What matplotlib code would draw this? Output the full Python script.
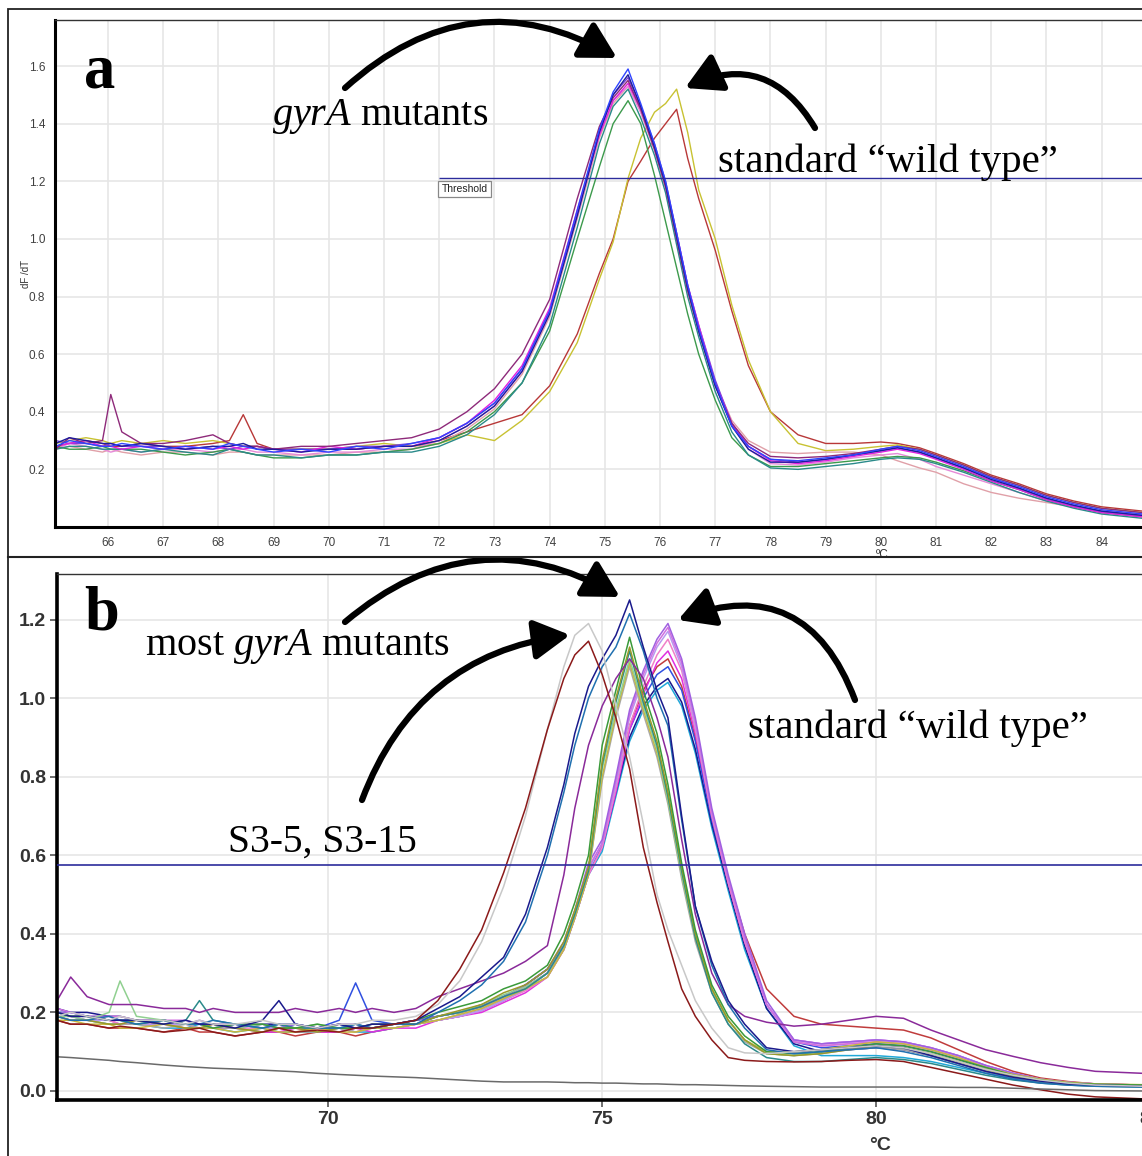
import matplotlib
matplotlib.use("Agg")
import matplotlib.pyplot as plt
from matplotlib.patches import FancyArrowPatch, Rectangle
from matplotlib.lines import Line2D
from matplotlib.transforms import Bbox, TransformedBbox

# ---------------- DATA: panel a (LightCycler melt curves) ----------------
TA = [65.05, 65.3, 65.6, 65.9, 66.05, 66.25, 66.6, 67.0, 67.4, 67.9, 68.2, 68.45, 68.7, 69.0, 69.5,
      70.0, 70.5, 71.0, 71.5, 72.0, 72.5, 73.0, 73.5, 74.0, 74.5, 74.9, 75.15, 75.42, 75.65, 75.9,
      76.1, 76.3, 76.5, 76.7, 77.0, 77.3, 77.6, 78.0, 78.5, 79.0, 79.5, 80.0, 80.3, 80.7, 81.0,
      81.5, 82.0, 82.5, 83.0, 83.5, 84.0, 84.75]

a_blue = [0.28,0.30,0.29,0.28,0.28,0.29,0.28,0.27,0.28,0.27,0.29,0.28,0.27,0.26,0.27,0.26,0.28,0.27,0.29,
          0.31,0.36,0.43,0.55,0.75,1.10,1.38,1.51,1.59,1.47,1.33,1.20,1.02,0.84,0.69,0.50,0.35,0.28,0.235,
          0.23,0.24,0.25,0.27,0.28,0.265,0.245,0.21,0.17,0.14,0.105,0.08,0.06,0.045]
a_navy = [0.29,0.31,0.30,0.29,0.29,0.28,0.29,0.28,0.27,0.28,0.28,0.29,0.27,0.27,0.26,0.27,0.27,0.28,0.28,
          0.30,0.35,0.42,0.54,0.74,1.08,1.37,1.50,1.57,1.46,1.32,1.19,1.01,0.83,0.68,0.49,0.35,0.27,0.225,
          0.225,0.235,0.25,0.265,0.275,0.26,0.24,0.205,0.165,0.135,0.10,0.075,0.055,0.04]
a_purple = [0.27,0.31,0.29,0.30,0.46,0.33,0.29,0.29,0.30,0.32,0.29,0.28,0.28,0.27,0.28,0.28,0.29,0.30,0.31,
            0.34,0.40,0.48,0.60,0.79,1.14,1.39,1.49,1.55,1.45,1.31,1.18,1.00,0.82,0.68,0.49,0.36,0.29,0.245,
            0.24,0.245,0.255,0.27,0.28,0.27,0.25,0.215,0.175,0.145,0.11,0.085,0.065,0.05]
a_magenta = [0.28,0.29,0.30,0.28,0.28,0.27,0.28,0.27,0.28,0.27,0.28,0.27,0.28,0.27,0.26,0.28,0.27,0.28,0.28,
             0.31,0.36,0.44,0.56,0.76,1.10,1.36,1.48,1.54,1.45,1.32,1.19,1.02,0.84,0.70,0.50,0.36,0.28,0.23,
             0.22,0.23,0.245,0.26,0.27,0.255,0.235,0.20,0.16,0.13,0.095,0.07,0.05,0.035]
a_violet = [0.30,0.29,0.29,0.28,0.29,0.28,0.28,0.28,0.27,0.28,0.27,0.28,0.28,0.27,0.27,0.27,0.28,0.28,0.29,
            0.31,0.36,0.43,0.55,0.75,1.09,1.37,1.50,1.56,1.46,1.33,1.20,1.02,0.84,0.70,0.51,0.36,0.28,0.235,
            0.225,0.235,0.25,0.265,0.275,0.26,0.24,0.205,0.17,0.135,0.10,0.075,0.055,0.04]
a_teal = [0.27,0.28,0.28,0.27,0.27,0.27,0.26,0.27,0.26,0.25,0.27,0.26,0.25,0.25,0.24,0.25,0.25,0.26,0.26,
          0.28,0.32,0.39,0.50,0.70,1.04,1.33,1.46,1.52,1.42,1.29,1.16,0.98,0.80,0.66,0.47,0.33,0.25,0.205,
          0.20,0.21,0.22,0.235,0.24,0.235,0.22,0.19,0.155,0.12,0.09,0.065,0.045,0.03]
a_green = [0.28,0.27,0.27,0.28,0.27,0.27,0.27,0.26,0.25,0.26,0.27,0.26,0.25,0.24,0.24,0.25,0.25,0.26,0.27,
           0.29,0.33,0.40,0.50,0.68,1.00,1.25,1.40,1.48,1.40,1.22,1.06,0.90,0.74,0.60,0.44,0.31,0.25,0.21,
           0.21,0.22,0.23,0.24,0.245,0.24,0.225,0.195,0.16,0.13,0.095,0.07,0.05,0.035]
a_pink = [0.27,0.29,0.28,0.27,0.26,0.27,0.26,0.27,0.27,0.26,0.27,0.27,0.26,0.26,0.25,0.26,0.26,0.27,0.27,
          0.30,0.35,0.42,0.54,0.74,1.08,1.36,1.48,1.53,1.44,1.31,1.18,1.00,0.82,0.68,0.49,0.35,0.27,0.22,
          0.215,0.225,0.24,0.25,0.255,0.235,0.21,0.18,0.15,0.12,0.09,0.07,0.05,0.04]
a_rose = [0.27,0.28,0.27,0.26,0.27,0.26,0.25,0.26,0.26,0.25,0.26,0.26,0.25,0.25,0.25,0.25,0.26,0.26,0.27,
          0.29,0.34,0.41,0.53,0.73,1.07,1.35,1.47,1.53,1.44,1.31,1.18,1.00,0.83,0.69,0.50,0.37,0.30,0.26,
          0.255,0.26,0.26,0.25,0.23,0.205,0.19,0.15,0.12,0.10,0.085,0.07,0.055,0.045]
a_wt_yellow = [0.29,0.30,0.31,0.30,0.29,0.30,0.29,0.30,0.29,0.30,0.29,0.28,0.28,0.27,0.27,0.27,0.28,0.29,0.28,
               0.29,0.32,0.30,0.37,0.47,0.64,0.86,0.99,1.21,1.35,1.44,1.47,1.52,1.37,1.17,1.00,0.77,0.58,0.40,
               0.29,0.265,0.27,0.28,0.285,0.27,0.25,0.215,0.175,0.145,0.11,0.085,0.065,0.05]
a_wt_red = [0.28,0.29,0.30,0.29,0.28,0.28,0.29,0.28,0.28,0.29,0.30,0.39,0.29,0.27,0.27,0.27,0.27,0.28,0.28,
            0.30,0.33,0.36,0.39,0.49,0.67,0.88,1.00,1.20,1.27,1.35,1.40,1.45,1.28,1.14,0.96,0.75,0.56,0.40,
            0.32,0.29,0.29,0.295,0.29,0.275,0.255,0.22,0.18,0.15,0.115,0.09,0.07,0.055]

A_SERIES = [a_wt_red, a_wt_yellow, a_rose, a_pink, a_green, a_teal, a_violet, a_magenta, a_purple, a_navy, a_blue]
A_COLORS = ['#b83838', '#c8c232', '#e0a0a8', '#e68ad8', '#3c9a4c', '#2a8a8a', '#7a44d8', '#e020e0',
            '#8e2a7a', '#1c1c9c', '#2f44ff']
THRESH_A = 1.21
THRESH_A_START = 72.0
A_XTICKS = list(range(66, 85))
A_YTICKS = [0.2, 0.4, 0.6, 0.8, 1.0, 1.2, 1.4, 1.6]

# ---------------- DATA: panel b ----------------
TB = [65.05, 65.3, 65.6, 66.0, 66.2, 66.5, 67.0, 67.4, 67.65, 67.9, 68.3, 68.8, 69.1, 69.4, 69.8, 70.2,
      70.5, 70.8, 71.2, 71.6, 72.0, 72.4, 72.8, 73.2, 73.6, 74.0, 74.3, 74.5, 74.75, 75.0, 75.25, 75.5,
      75.75, 76.0, 76.2, 76.45, 76.7, 77.0, 77.3, 77.6, 78.0, 78.5, 79.0, 79.5, 80.0, 80.5, 81.0, 81.5,
      82.0, 82.5, 83.0, 83.5, 84.0, 84.85]

b_control = [0.087,0.085,0.082,0.078,0.075,0.072,0.066,0.062,0.060,0.058,0.056,0.053,0.051,0.049,0.045,0.042,
             0.040,0.038,0.036,0.034,0.031,0.028,0.025,0.023,0.023,0.023,0.022,0.021,0.021,0.020,0.020,0.019,
             0.018,0.018,0.017,0.016,0.016,0.015,0.014,0.013,0.012,0.011,0.010,0.010,0.010,0.010,0.010,0.009,
             0.009,0.007,0.005,0.003,0.001,0.000]
b_s3_maroon = [0.18,0.17,0.17,0.16,0.165,0.16,0.15,0.155,0.16,0.15,0.14,0.15,0.16,0.15,0.155,0.15,0.16,0.16,0.17,0.18,
               0.23,0.31,0.41,0.555,0.72,0.92,1.05,1.11,1.145,1.06,0.95,0.82,0.62,0.48,0.38,0.26,0.19,0.13,0.085,0.078,
               0.075,0.074,0.075,0.078,0.08,0.075,0.06,0.045,0.03,0.015,0.003,-0.008,-0.015,-0.02]
b_s3_gray = [0.19,0.20,0.19,0.18,0.19,0.18,0.18,0.17,0.18,0.17,0.17,0.18,0.17,0.17,0.16,0.17,0.17,0.18,0.18,0.19,
             0.22,0.28,0.38,0.52,0.70,0.92,1.08,1.16,1.19,1.12,0.98,0.85,0.68,0.50,0.41,0.32,0.23,0.16,0.11,0.097,
             0.095,0.10,0.105,0.11,0.115,0.11,0.095,0.075,0.055,0.04,0.028,0.02,0.015,0.012]
b_mut_navy = [0.20,0.19,0.19,0.18,0.18,0.18,0.17,0.18,0.17,0.17,0.16,0.18,0.23,0.17,0.16,0.17,0.16,0.17,0.17,0.18,
              0.21,0.24,0.29,0.34,0.45,0.62,0.78,0.91,1.03,1.10,1.16,1.25,1.13,1.02,0.95,0.70,0.47,0.33,0.23,0.17,
              0.11,0.10,0.105,0.11,0.115,0.11,0.09,0.07,0.05,0.035,0.025,0.018,0.015,0.012]
b_mut_steel = [0.19,0.18,0.18,0.19,0.18,0.17,0.18,0.17,0.17,0.18,0.17,0.16,0.17,0.17,0.16,0.16,0.17,0.16,0.17,0.17,
               0.20,0.23,0.27,0.33,0.43,0.60,0.76,0.88,1.00,1.08,1.13,1.215,1.12,1.00,0.93,0.69,0.47,0.32,0.22,0.16,
               0.105,0.095,0.10,0.105,0.11,0.10,0.085,0.065,0.045,0.03,0.02,0.015,0.012,0.01]
b_mut_purple = [0.23,0.29,0.24,0.22,0.22,0.22,0.21,0.21,0.20,0.21,0.20,0.20,0.20,0.21,0.20,0.21,0.20,0.21,0.20,0.21,
                0.24,0.26,0.28,0.30,0.33,0.37,0.55,0.72,0.88,0.98,1.05,1.10,1.05,0.95,0.85,0.64,0.45,0.30,0.22,0.19,
                0.175,0.165,0.17,0.18,0.19,0.185,0.155,0.13,0.105,0.088,0.072,0.06,0.05,0.045]
b_mut_green = [0.20,0.19,0.19,0.18,0.18,0.17,0.18,0.17,0.17,0.16,0.17,0.17,0.16,0.16,0.17,0.16,0.16,0.17,0.17,0.18,
               0.20,0.215,0.23,0.26,0.28,0.32,0.40,0.48,0.60,0.88,1.02,1.155,1.02,0.91,0.78,0.58,0.41,0.27,0.19,0.14,
               0.10,0.095,0.10,0.11,0.12,0.115,0.10,0.08,0.06,0.04,0.028,0.02,0.017,0.015]
b_mut_olive = [0.19,0.18,0.18,0.17,0.17,0.18,0.17,0.16,0.16,0.17,0.16,0.15,0.16,0.16,0.15,0.16,0.16,0.16,0.17,0.17,
               0.19,0.205,0.22,0.25,0.27,0.31,0.38,0.46,0.57,0.84,1.00,1.13,1.00,0.89,0.76,0.57,0.40,0.26,0.18,0.13,
               0.095,0.09,0.095,0.105,0.115,0.11,0.095,0.075,0.055,0.038,0.026,0.019,0.016,0.014]
b_mut_teal = [0.20,0.19,0.19,0.18,0.18,0.18,0.17,0.18,0.23,0.18,0.17,0.16,0.17,0.16,0.16,0.16,0.17,0.16,0.17,0.17,
              0.19,0.20,0.215,0.24,0.26,0.30,0.37,0.45,0.56,0.83,0.99,1.12,0.99,0.88,0.75,0.56,0.39,0.25,0.17,0.12,
              0.085,0.075,0.075,0.08,0.085,0.08,0.07,0.055,0.04,0.028,0.02,0.015,0.012,0.01]
b_mut_lime = [0.19,0.19,0.18,0.20,0.28,0.19,0.18,0.17,0.17,0.17,0.16,0.17,0.16,0.16,0.17,0.16,0.16,0.16,0.17,0.17,
              0.19,0.20,0.22,0.245,0.265,0.30,0.37,0.45,0.56,0.82,0.97,1.10,0.98,0.87,0.74,0.55,0.39,0.26,0.18,0.13,
              0.095,0.09,0.10,0.11,0.115,0.11,0.095,0.075,0.055,0.038,0.026,0.019,0.016,0.014]
b_mut_yellow = [0.18,0.18,0.17,0.17,0.16,0.16,0.17,0.16,0.16,0.16,0.15,0.16,0.15,0.15,0.16,0.15,0.15,0.16,0.16,0.17,
                0.18,0.195,0.21,0.235,0.26,0.29,0.36,0.44,0.55,0.80,0.96,1.09,0.97,0.86,0.74,0.55,0.39,0.26,0.18,0.13,
                0.10,0.10,0.105,0.115,0.125,0.12,0.105,0.085,0.06,0.042,0.03,0.022,0.018,0.016]
b_mut_gray = [0.19,0.18,0.18,0.17,0.17,0.17,0.16,0.17,0.16,0.16,0.16,0.15,0.16,0.15,0.15,0.16,0.15,0.16,0.16,0.17,
              0.18,0.195,0.21,0.235,0.26,0.29,0.36,0.44,0.55,0.79,0.95,1.08,0.96,0.85,0.73,0.54,0.38,0.25,0.17,0.125,
              0.095,0.09,0.095,0.105,0.11,0.105,0.09,0.07,0.05,0.035,0.024,0.018,0.015,0.013]
b_wt_violet = [0.20,0.20,0.19,0.19,0.18,0.18,0.18,0.17,0.18,0.17,0.17,0.17,0.16,0.17,0.16,0.17,0.17,0.16,0.17,0.18,
               0.19,0.20,0.22,0.24,0.27,0.31,0.38,0.46,0.58,0.64,0.80,0.97,1.07,1.15,1.19,1.10,0.95,0.72,0.55,0.40,
               0.23,0.13,0.12,0.125,0.13,0.125,0.11,0.09,0.065,0.045,0.03,0.022,0.018,0.015]
b_wt_orchid = [0.21,0.20,0.19,0.19,0.19,0.18,0.18,0.18,0.17,0.17,0.17,0.16,0.17,0.17,0.16,0.16,0.16,0.17,0.17,0.17,
               0.19,0.20,0.215,0.235,0.265,0.30,0.37,0.45,0.57,0.63,0.79,0.96,1.06,1.14,1.18,1.09,0.94,0.71,0.54,0.39,
               0.22,0.125,0.115,0.12,0.125,0.12,0.105,0.085,0.06,0.042,0.028,0.02,0.016,0.014]
b_wt_lavender = [0.19,0.19,0.18,0.18,0.18,0.17,0.17,0.17,0.17,0.16,0.17,0.16,0.16,0.16,0.16,0.15,0.16,0.16,0.16,0.17,
                 0.18,0.19,0.205,0.23,0.26,0.30,0.37,0.45,0.56,0.63,0.78,0.95,1.05,1.13,1.17,1.08,0.93,0.71,0.54,0.39,
                 0.22,0.13,0.12,0.125,0.13,0.125,0.11,0.09,0.065,0.045,0.03,0.022,0.018,0.015]
b_wt_pink = [0.20,0.19,0.19,0.18,0.17,0.18,0.17,0.17,0.16,0.17,0.16,0.16,0.16,0.15,0.16,0.16,0.15,0.16,0.16,0.17,
             0.18,0.19,0.205,0.23,0.255,0.29,0.36,0.44,0.55,0.62,0.77,0.93,1.03,1.11,1.15,1.07,0.92,0.70,0.53,0.38,
             0.22,0.125,0.115,0.12,0.125,0.12,0.105,0.085,0.06,0.042,0.028,0.02,0.016,0.014]
b_wt_magenta = [0.19,0.19,0.18,0.18,0.17,0.17,0.17,0.16,0.16,0.16,0.16,0.15,0.15,0.16,0.15,0.15,0.16,0.15,0.16,0.16,
                0.18,0.19,0.20,0.225,0.25,0.29,0.36,0.44,0.55,0.62,0.76,0.92,1.01,1.09,1.12,1.05,0.91,0.70,0.53,0.38,
                0.22,0.13,0.12,0.125,0.13,0.125,0.11,0.09,0.065,0.045,0.03,0.022,0.018,0.015]
b_wt_blue = [0.20,0.20,0.19,0.18,0.18,0.18,0.17,0.17,0.17,0.16,0.17,0.16,0.16,0.17,0.16,0.18,0.275,0.18,0.17,0.18,
             0.19,0.20,0.215,0.24,0.27,0.31,0.37,0.45,0.56,0.63,0.77,0.92,1.00,1.06,1.08,1.02,0.89,0.69,0.53,0.38,
             0.22,0.125,0.11,0.115,0.12,0.115,0.10,0.08,0.058,0.04,0.027,0.02,0.016,0.014]
b_wt_darkblue = [0.21,0.20,0.20,0.19,0.19,0.18,0.18,0.17,0.17,0.17,0.16,0.17,0.17,0.16,0.16,0.17,0.16,0.16,0.17,0.18,
                 0.19,0.20,0.215,0.24,0.27,0.31,0.37,0.45,0.56,0.62,0.76,0.90,0.98,1.03,1.05,0.99,0.87,0.68,0.52,0.37,
                 0.21,0.12,0.10,0.105,0.11,0.105,0.09,0.07,0.05,0.035,0.024,0.018,0.015,0.013]
b_wt_cyan = [0.19,0.18,0.18,0.17,0.17,0.17,0.16,0.16,0.17,0.16,0.15,0.16,0.15,0.15,0.15,0.16,0.15,0.15,0.16,0.17,
             0.18,0.19,0.205,0.23,0.26,0.30,0.36,0.44,0.55,0.61,0.75,0.89,0.97,1.02,1.04,0.98,0.86,0.67,0.51,0.36,
             0.21,0.115,0.09,0.09,0.09,0.085,0.075,0.06,0.045,0.032,0.022,0.017,0.014,0.012]
b_wt_red = [0.18,0.17,0.17,0.16,0.16,0.16,0.15,0.16,0.15,0.15,0.14,0.15,0.15,0.14,0.15,0.15,0.14,0.15,0.16,0.17,
            0.18,0.19,0.205,0.23,0.26,0.30,0.37,0.45,0.56,0.62,0.77,0.93,1.02,1.08,1.10,1.03,0.90,0.70,0.54,0.40,
            0.26,0.19,0.17,0.165,0.16,0.155,0.135,0.105,0.075,0.05,0.033,0.024,0.018,0.015]

B_SERIES = [b_wt_red, b_wt_cyan, b_wt_darkblue, b_wt_blue, b_wt_magenta, b_wt_pink, b_wt_lavender, b_wt_orchid,
            b_wt_violet, b_mut_gray, b_mut_yellow, b_mut_lime, b_mut_teal, b_mut_olive, b_mut_green,
            b_mut_purple, b_mut_steel, b_mut_navy, b_s3_gray, b_s3_maroon, b_control]
B_COLORS = ['#c03c3c', '#20a8d8', '#18188c', '#3050e0', '#e030e0', '#f080c8', '#b89af0', '#d070e0',
            '#a060e0', '#a8a8a8', '#c8b840', '#90d090', '#2a8a8a', '#9a9a28', '#3a9a3a',
            '#8a2a9a', '#2070b0', '#1a1a8c', '#c8c8c8', '#8b1a1a', '#6a6a6a']
THRESH_B = 0.575
B_XTICKS = [70, 75, 80, 85]
B_YTICKS = [0.0, 0.2, 0.4, 0.6, 0.8, 1.0, 1.2]

# ---------------- FIGURE ----------------
plt.rcParams['mathtext.fontset'] = 'custom'
plt.rcParams['mathtext.rm'] = 'Liberation Serif'
plt.rcParams['mathtext.it'] = 'Liberation Serif:italic'

W, H = 1142, 1156
fig = plt.figure(figsize=(W / 100, H / 100), dpi=100)
fig.patch.set_facecolor('white')


def fx(px):
    return px / W


def fy(py):
    return 1 - py / H


SANS = 'Liberation Sans'
SERIF = 'Liberation Serif'

# ---- panel a ----
axa = fig.add_axes([fx(55), fy(527), fx(1142) - fx(55), fy(20) - fy(527)])
for s, c in zip(A_SERIES, A_COLORS):
    axa.plot(TA, s, color=c, lw=1.0)
axa.set_xlim(65.04, 84.73)
axa.set_ylim(0.0, 1.76)
axa.hlines(THRESH_A, THRESH_A_START, 84.73, color='#2c2c9c', lw=1.0, zorder=5)
axa.text(THRESH_A_START + 0.04, THRESH_A - 0.02, 'Threshold', fontsize=7.5, family=SANS,
         va='top', ha='left', color='#222', zorder=6,
         bbox=dict(boxstyle='square,pad=0.3', fc='white', ec='#888888', lw=0.9))
axa.set_xticks(A_XTICKS)
axa.set_yticks(A_YTICKS)
axa.set_xticklabels([str(t) for t in A_XTICKS])
axa.set_yticklabels(['%.1f' % t for t in A_YTICKS])
axa.grid(True, color='#e6e6e6', lw=1.2)
axa.set_axisbelow(True)
axa.tick_params(length=0, pad=7, labelsize=8.5, labelcolor='#404040')
for lab in axa.get_xticklabels() + axa.get_yticklabels():
    lab.set_family(SANS)
axa.spines['left'].set_linewidth(2.2)
axa.spines['bottom'].set_linewidth(2.2)
axa.spines['top'].set_linewidth(1.0)
axa.spines['top'].set_color('#333333')
axa.spines['right'].set_visible(False)

fig.text(fx(26), fy(274), 'dF /dT', rotation=90, ha='center', va='center', fontsize=7,
         family=SANS, color='#333')
t_unit = fig.text(fx(882), fy(549), 'ºC', ha='center', va='top', fontsize=8.5, family=SANS, color='#333')
t_unit.set_clip_box(TransformedBbox(Bbox([[0, fy(556)], [1, 1]]), fig.transFigure))
t_unit.set_clip_on(True)

# ---- panel b ----
axb = fig.add_axes([fx(57), fy(1100), fx(1160) - fx(57), fy(574) - fy(1100)])
for s, c in zip(B_SERIES, B_COLORS):
    axb.plot(TB, s, color=c, lw=1.1)
axb.set_xlim(65.05, 85.18)
axb.set_ylim(-0.023, 1.316)
axb.axhline(THRESH_B, color='#2c2c9c', lw=1.2, zorder=5)
axb.set_xticks(B_XTICKS)
axb.set_yticks(B_YTICKS)
axb.set_xticklabels([str(t) for t in B_XTICKS])
axb.set_yticklabels(['%.1f' % t for t in B_YTICKS])
axb.grid(True, color='#e6e6e6', lw=1.2)
axb.set_axisbelow(True)
axb.tick_params(length=5, width=1.2, color='#555', pad=3, labelsize=14, labelcolor='#333')
for lab in axb.get_xticklabels() + axb.get_yticklabels():
    lab.set_family(SANS)
    lab.set_fontweight('bold')
axb.spines['left'].set_linewidth(2.6)
axb.spines['bottom'].set_linewidth(2.6)
axb.spines['top'].set_linewidth(1.0)
axb.spines['top'].set_color('#333333')
axb.spines['right'].set_visible(False)
fig.text(fx(880), fy(1145), '°C', ha='center', va='center', fontsize=14, family=SANS,
         fontweight='bold', color='#333')

# ---- frame and separator ----
fig.add_artist(Rectangle((fx(8), -0.01), 1.02 - fx(8), fy(9) + 0.01, transform=fig.transFigure,
                         fill=False, ec='#222222', lw=1.3))
fig.add_artist(Line2D([fx(8), 1.0], [fy(557), fy(557)], transform=fig.transFigure, color='#222222', lw=1.5))

# ---- annotations ----
fig.text(fx(84), fy(87), 'a', fontsize=45, fontweight='bold', family=SERIF, va='baseline', ha='left')
fig.text(fx(84), fy(630), 'b', fontsize=45, fontweight='bold', family=SERIF, va='baseline', ha='left')
fig.text(fx(272), fy(125), r'$\mathit{gyrA}$ mutants', fontsize=29, family=SERIF, va='baseline', ha='left')
fig.text(fx(718), fy(172), 'standard \u201cwild type\u201d', fontsize=29.5, family=SERIF, va='baseline', ha='left')
fig.text(fx(145), fy(655), r'most $\mathit{gyrA}$ mutants', fontsize=29, family=SERIF, va='baseline', ha='left')
fig.text(fx(748), fy(738), 'standard \u201cwild type\u201d', fontsize=29.5, family=SERIF, va='baseline', ha='left')
fig.text(fx(228), fy(852), 'S3-5, S3-15', fontsize=28.5, family=SERIF, va='baseline', ha='left')


def arrow(p0, p1, rad):
    arr = FancyArrowPatch((fx(p0[0]), fy(p0[1])), (fx(p1[0]), fy(p1[1])),
                          transform=fig.transFigure,
                          connectionstyle='arc3,rad=%f' % rad,
                          arrowstyle='-|>,head_length=0.9,head_width=0.5',
                          mutation_scale=24, lw=4.5, color='black',
                          shrinkA=0, shrinkB=0)
    fig.add_artist(arr)


arrow((345, 88), (617, 58), -0.36)
arrow((815, 128), (685, 88), 0.45)
arrow((345, 622), (620, 597), -0.35)
arrow((855, 700), (678, 620), 0.5)
arrow((362, 800), (570, 635), -0.3)

fig.savefig('out.png', dpi=100, facecolor='white')
